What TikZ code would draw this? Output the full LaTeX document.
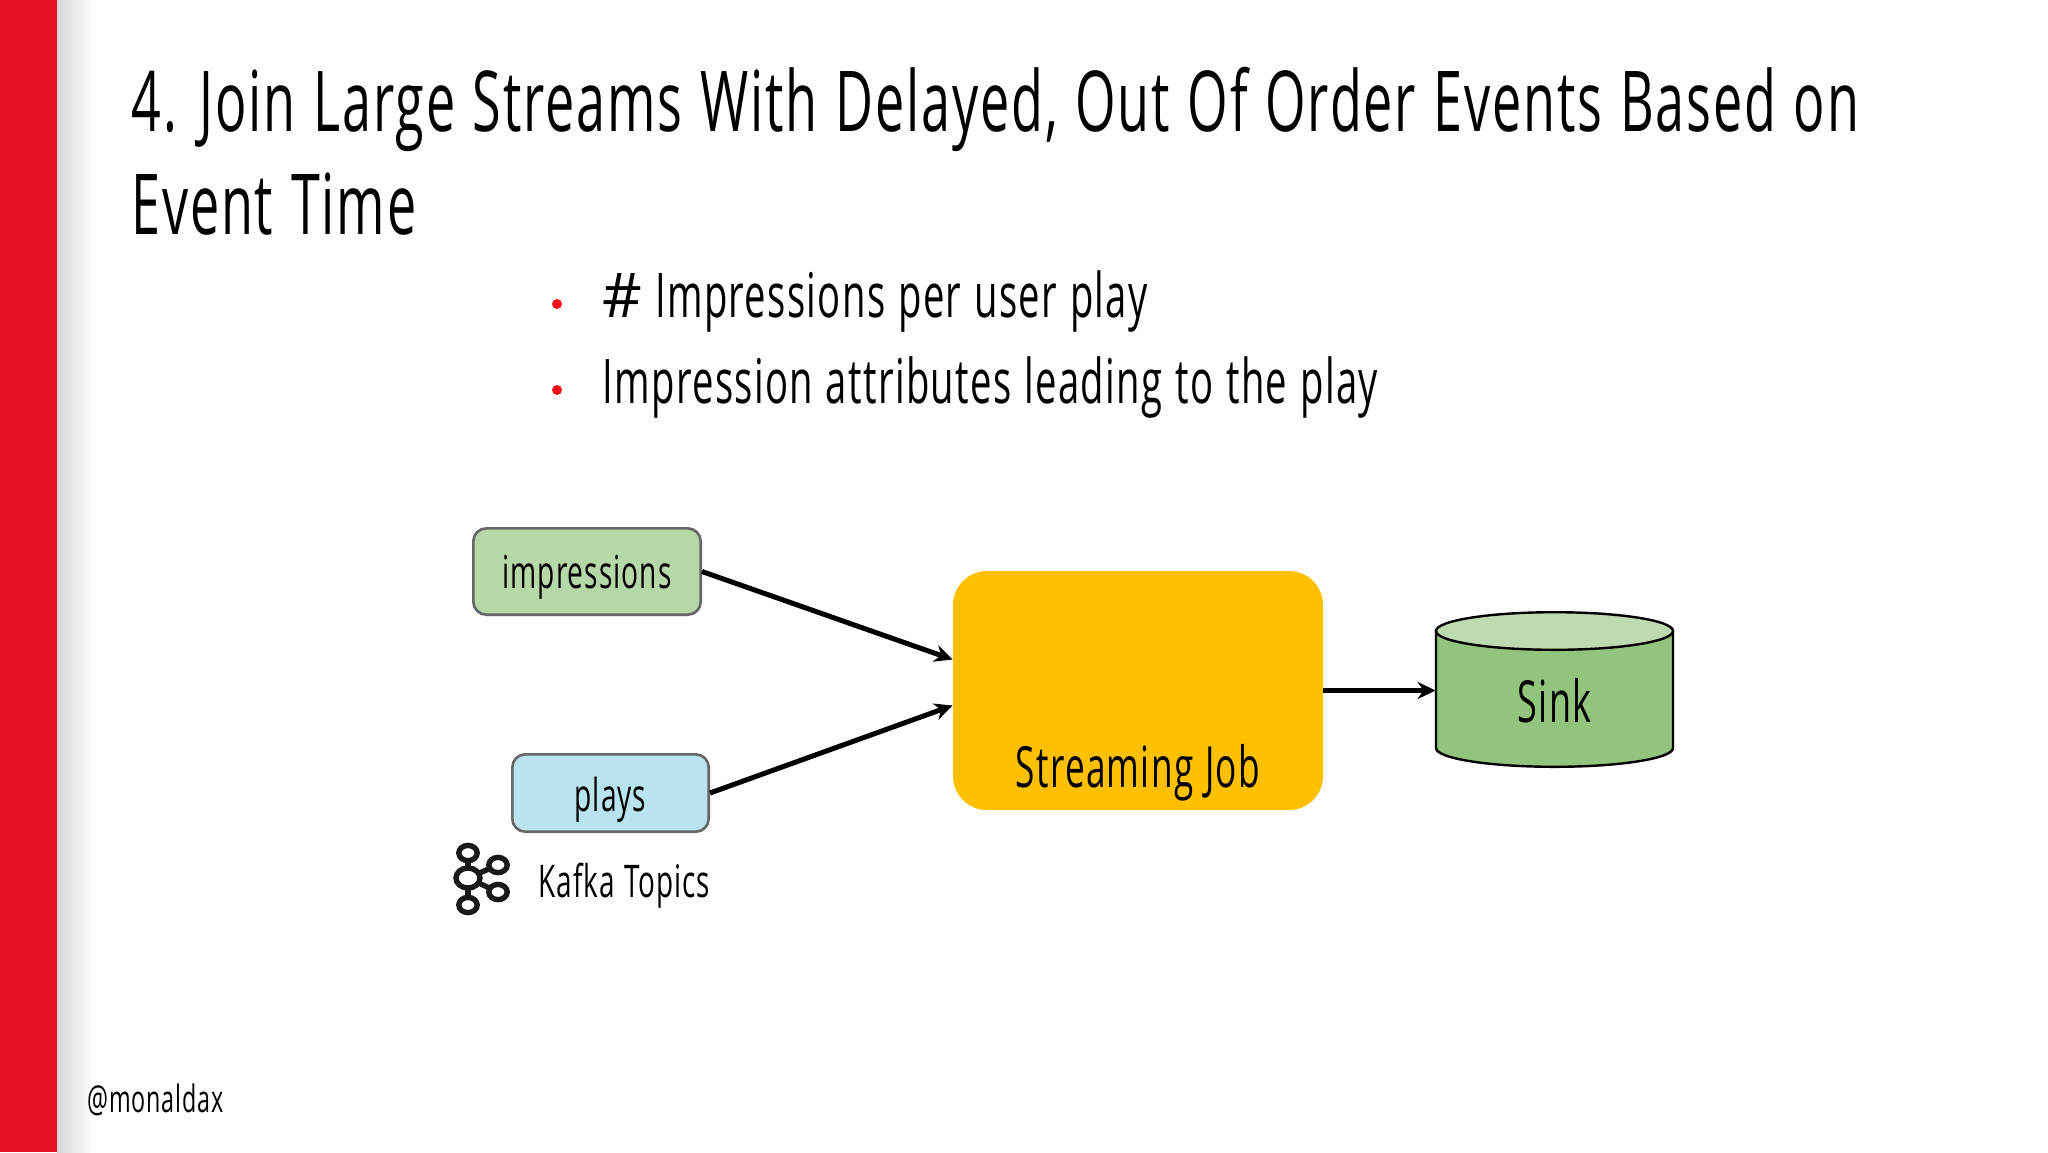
\documentclass[tikz,border=0pt]{standalone}
\usepackage{fontspec}
\setmainfont[FakeStretch=0.62,LetterSpace=2.2,WordSpace=1.15]{Open Sans}
\newfontfamily\hashfont{Open Sans}
\usetikzlibrary{arrows.meta}
\definecolor{slidered}{HTML}{E81226}
\definecolor{dotred}{HTML}{F5101A}
\definecolor{imprgreen}{HTML}{B6D7A8}
\definecolor{playblue}{HTML}{B9E4EF}
\definecolor{jobyellow}{HTML}{FFC000}
\definecolor{sinkgreen}{HTML}{93C47D}
\definecolor{sinktop}{HTML}{BDDAB1}
\tikzset{
    topicbox/.style={draw=black!60, line width=1.3pt, rounded corners=6.5pt, font=\fsize{22.7}, text depth=0pt},
    flow/.style={line width=2.5pt, -{Stealth[length=9pt,width=8.5pt]}},
    kafkaring/.style={draw=black!90, line width=2.7pt},
    bulletdot/.style={circle, fill=dotred, inner sep=0pt, minimum size=5pt},
    sinkline/.style={draw=black, line width=1.2pt},
}
\newcommand{\fsize}[1]{\fontsize{#1}{#1}\selectfont}
\begin{document}
\begin{tikzpicture}[x=0.5pt,y=-0.5pt]
    \useasboundingbox (0,0) rectangle (2048,1152);
    \fill[white!99.5!black] (0,0) rectangle (2048,1152);
    \shade[left color=black!16, right color=white!99.5!black] (57,0) rectangle (92,1152);
    \fill[slidered] (0,0) rectangle (57,1152);

    \node[anchor=base west, inner sep=0pt, align=left, font=\fontsize{42}{51.5}\selectfont] (title) at (131,234)
        {4. Join Large Streams With Delayed, Out Of Order Events Based on\\Event Time};

    \node[bulletdot] (dotone) at (557,304) {};
    \node[anchor=base west, inner sep=0pt, font=\fsize{30.8}] (bulletone) at (602,317) {{\hashfont\#} Impressions per user play};
    \node[bulletdot] (dottwo) at (557,390) {};
    \node[anchor=base west, inner sep=0pt, font=\fsize{30.8}] (bullettwo) at (602,403) {Impression attributes leading to the play};

    \node[topicbox, fill=imprgreen, minimum width=113.7pt, minimum height=43.2pt, text height=16.5pt] (impressions) at (587,571.5) {impressions};
    \node[topicbox, fill=playblue, minimum width=98.2pt, minimum height=38.7pt, text height=18pt] (plays) at (610.5,793) {plays};
    \node[fill=jobyellow, rounded corners=17pt, minimum width=185pt, minimum height=119.5pt] (job) at (1138,690.5) {};
    \node[anchor=base, inner sep=0pt, font=\fsize{28.4}] (joblabel) at (1138,787) {Streaming Job};

    \filldraw[sinkline, fill=sinkgreen] (1436,631) -- (1436,748) arc (180:360:59.25pt and 9.4pt) -- (1673,631) -- cycle;
    \filldraw[sinkline, fill=sinktop] (1554.5,631) ellipse (59.25pt and 9.4pt);
    \node[minimum width=118.5pt, minimum height=77.5pt, inner sep=0pt, font=\fsize{29}, text height=32.5pt, text depth=0pt] (sink) at (1554.5,689.5) {Sink};

    \draw[flow] (impressions.east) -- ([yshift=15.5pt]job.west);
    \draw[flow] (plays.east) -- ([yshift=-7.5pt]job.west);
    \draw[flow] (job.east) -- (sink.west |- job.east);

    \draw[kafkaring] (468,853) -- (468,905);
    \draw[kafkaring] (468,878) -- (498,865);
    \draw[kafkaring] (468,878) -- (498,892);
    \foreach \px/\py in {468/853, 468/905, 498/865, 498/892}
        \draw[kafkaring, fill=white] (\px,\py) ellipse (4.6pt and 3.8pt);
    \draw[kafkaring, fill=white] (468,878) ellipse (6pt and 5pt);
    \node[anchor=base west, inner sep=0pt, font=\fsize{22.5}] (kafkalabel) at (538,897) {Kafka Topics};

    \node[anchor=base west, inner sep=0pt, font=\fsize{18.8}] (handle) at (87,1112) {@monaldax};
\end{tikzpicture}
\end{document}
